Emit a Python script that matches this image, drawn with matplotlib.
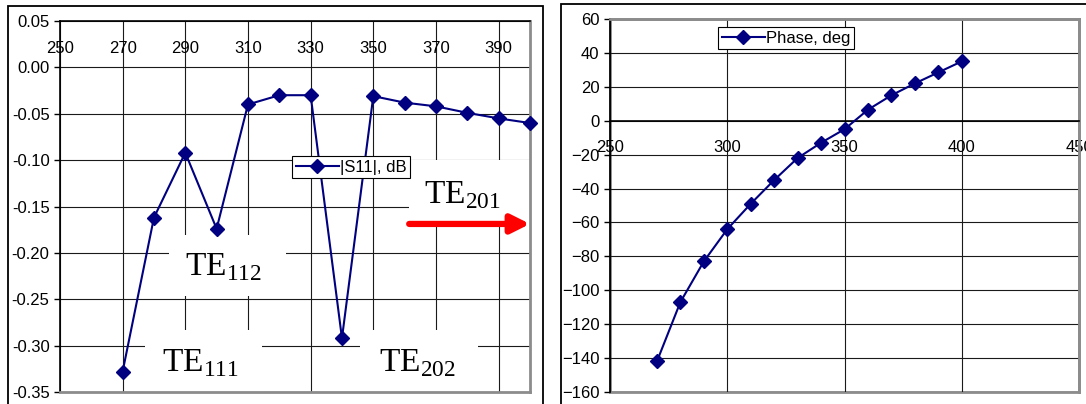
import matplotlib
matplotlib.use('Agg')
import matplotlib.pyplot as plt
from matplotlib.patches import Rectangle

plt.rcParams['font.family'] = ['Liberation Sans', 'DejaVu Sans']
plt.rcParams['mathtext.fontset'] = 'custom'
plt.rcParams['mathtext.rm'] = 'Liberation Serif'

freq = [270, 280, 290, 300, 310, 320, 330, 340, 350, 360, 370, 380, 390, 400]
s11_db = [-0.328, -0.162, -0.092, -0.174, -0.040, -0.030, -0.030,
          -0.292, -0.031, -0.038, -0.042, -0.049, -0.055, -0.060]
phase_deg = [-142, -107, -83, -64, -49, -35, -22, -13, -5, 6.5, 15, 22, 28.5, 35]

left_xticks = [250, 270, 290, 310, 330, 350, 370, 390]
left_yticks = [-0.35, -0.30, -0.25, -0.20, -0.15, -0.10, -0.05, 0.00, 0.05]
right_xticks = [250, 300, 350, 400, 450]
right_yticks = list(range(-160, 61, 20))

navy = '#000080'
grid_col = '#1a1a1a'
border_col = '#8c8c8c'
fs = 12

fig = plt.figure(figsize=(10.86, 4.04), dpi=100)

# outer chart frames
fig.patches.append(Rectangle((0.0074, -0.05), 0.4926, 1.035, transform=fig.transFigure,
                             fill=False, edgecolor='black', lw=1.3))
fig.patches.append(Rectangle((0.5166, -0.05), 0.52, 1.04, transform=fig.transFigure,
                             fill=False, edgecolor='black', lw=1.3))

# ---------- left: |S11| ----------
ax1 = fig.add_axes([0.0552, 0.0297, 0.4328, 0.9183])
ax1.set_axisbelow(True)
ax1.plot(freq, s11_db, color=navy, lw=1.5, marker='D', ms=7, clip_on=False,
         label='|S11|, dB', zorder=4)
ax1.set_xlim(250, 400)
ax1.set_ylim(-0.35, 0.05)
ax1.set_xticks(left_xticks)
ax1.set_yticks(left_yticks)
ax1.set_yticklabels(['%.2f' % v for v in left_yticks])
ax1.grid(True, color=grid_col, lw=0.8)
ax1.xaxis.tick_top()
ax1.tick_params(axis='x', length=0, pad=-25, labelsize=fs)
ax1.tick_params(axis='y', length=4, width=1, pad=3.5, labelsize=fs)
for s in ['left', 'top']:
    ax1.spines[s].set_color('black')
    ax1.spines[s].set_linewidth(1.2)
for s in ['right', 'bottom']:
    ax1.spines[s].set_color(border_col)
    ax1.spines[s].set_linewidth(2)
ax1.spines['top'].set_zorder(3)

# white label boxes hiding the grid
boxes = [(0.232, 0.259, 0.249, 0.164), (0.181, 0.0, 0.249, 0.167),
         (0.638, 0.0, 0.251, 0.167), (0.743, 0.447, 0.257, 0.178)]
for x0, y0, w, h in boxes:
    ax1.add_patch(Rectangle((x0, y0), w, h, transform=ax1.transAxes,
                            facecolor='white', edgecolor='none', zorder=2.5))

labels = [(0.347, 0.337, r'$\mathrm{TE}_{112}$'), (0.298, 0.078, r'$\mathrm{TE}_{111}$'),
          (0.760, 0.078, r'$\mathrm{TE}_{202}$'), (0.857, 0.531, r'$\mathrm{TE}_{201}$')]
for x, y, t in labels:
    ax1.text(x, y, t, transform=ax1.transAxes, ha='center', va='center',
             fontsize=24, zorder=3)

ax1.annotate('', xy=(1.0, 0.453), xytext=(0.743, 0.453), xycoords='axes fraction',
             arrowprops=dict(arrowstyle='-|>,head_length=1.1,head_width=0.55',
                             color='red', lw=4.5, shrinkA=0, shrinkB=0), zorder=3)

leg_kw = dict(loc='upper left', frameon=True, fancybox=False, edgecolor='black',
              framealpha=1, fontsize=fs, borderpad=0.22, handlelength=2.6,
              handletextpad=0.05, borderaxespad=0)
fig.legend(handles=ax1.get_lines(), bbox_to_anchor=(0.2689, 0.6139),
           **leg_kw).get_frame().set_linewidth(0.8)

# ---------- right: phase ----------
ax2 = fig.add_axes([0.5617, 0.0297, 0.4319, 0.9233])
ax2.set_axisbelow(True)
ax2.plot(freq, phase_deg, color=navy, lw=1.5, marker='D', ms=7, clip_on=False,
         label='Phase, deg', zorder=4)
ax2.set_xlim(250, 450)
ax2.set_ylim(-160, 60)
ax2.set_xticks(right_xticks)
ax2.set_yticks(right_yticks)
ax2.grid(True, color=grid_col, lw=0.8)
ax2.spines['bottom'].set_position(('data', 0))
ax2.spines['bottom'].set_color('black')
ax2.spines['bottom'].set_linewidth(1.2)
ax2.spines['left'].set_color('black')
ax2.spines['left'].set_linewidth(1.2)
for s in ['right', 'top']:
    ax2.spines[s].set_color(border_col)
    ax2.spines[s].set_linewidth(2)
ax2.add_patch(Rectangle((0, 0), 1, 1, transform=ax2.transAxes, fill=False,
                        edgecolor=border_col, lw=2, zorder=0.4, clip_on=False))
ax2.tick_params(axis='x', length=0, pad=14, labelsize=fs)
ax2.tick_params(axis='y', length=4, width=1, pad=3.5, labelsize=fs)

fig.legend(handles=ax2.get_lines(), bbox_to_anchor=(0.6611, 0.9332),
           **leg_kw).get_frame().set_linewidth(0.8)

fig.savefig('out.png', dpi=100)
